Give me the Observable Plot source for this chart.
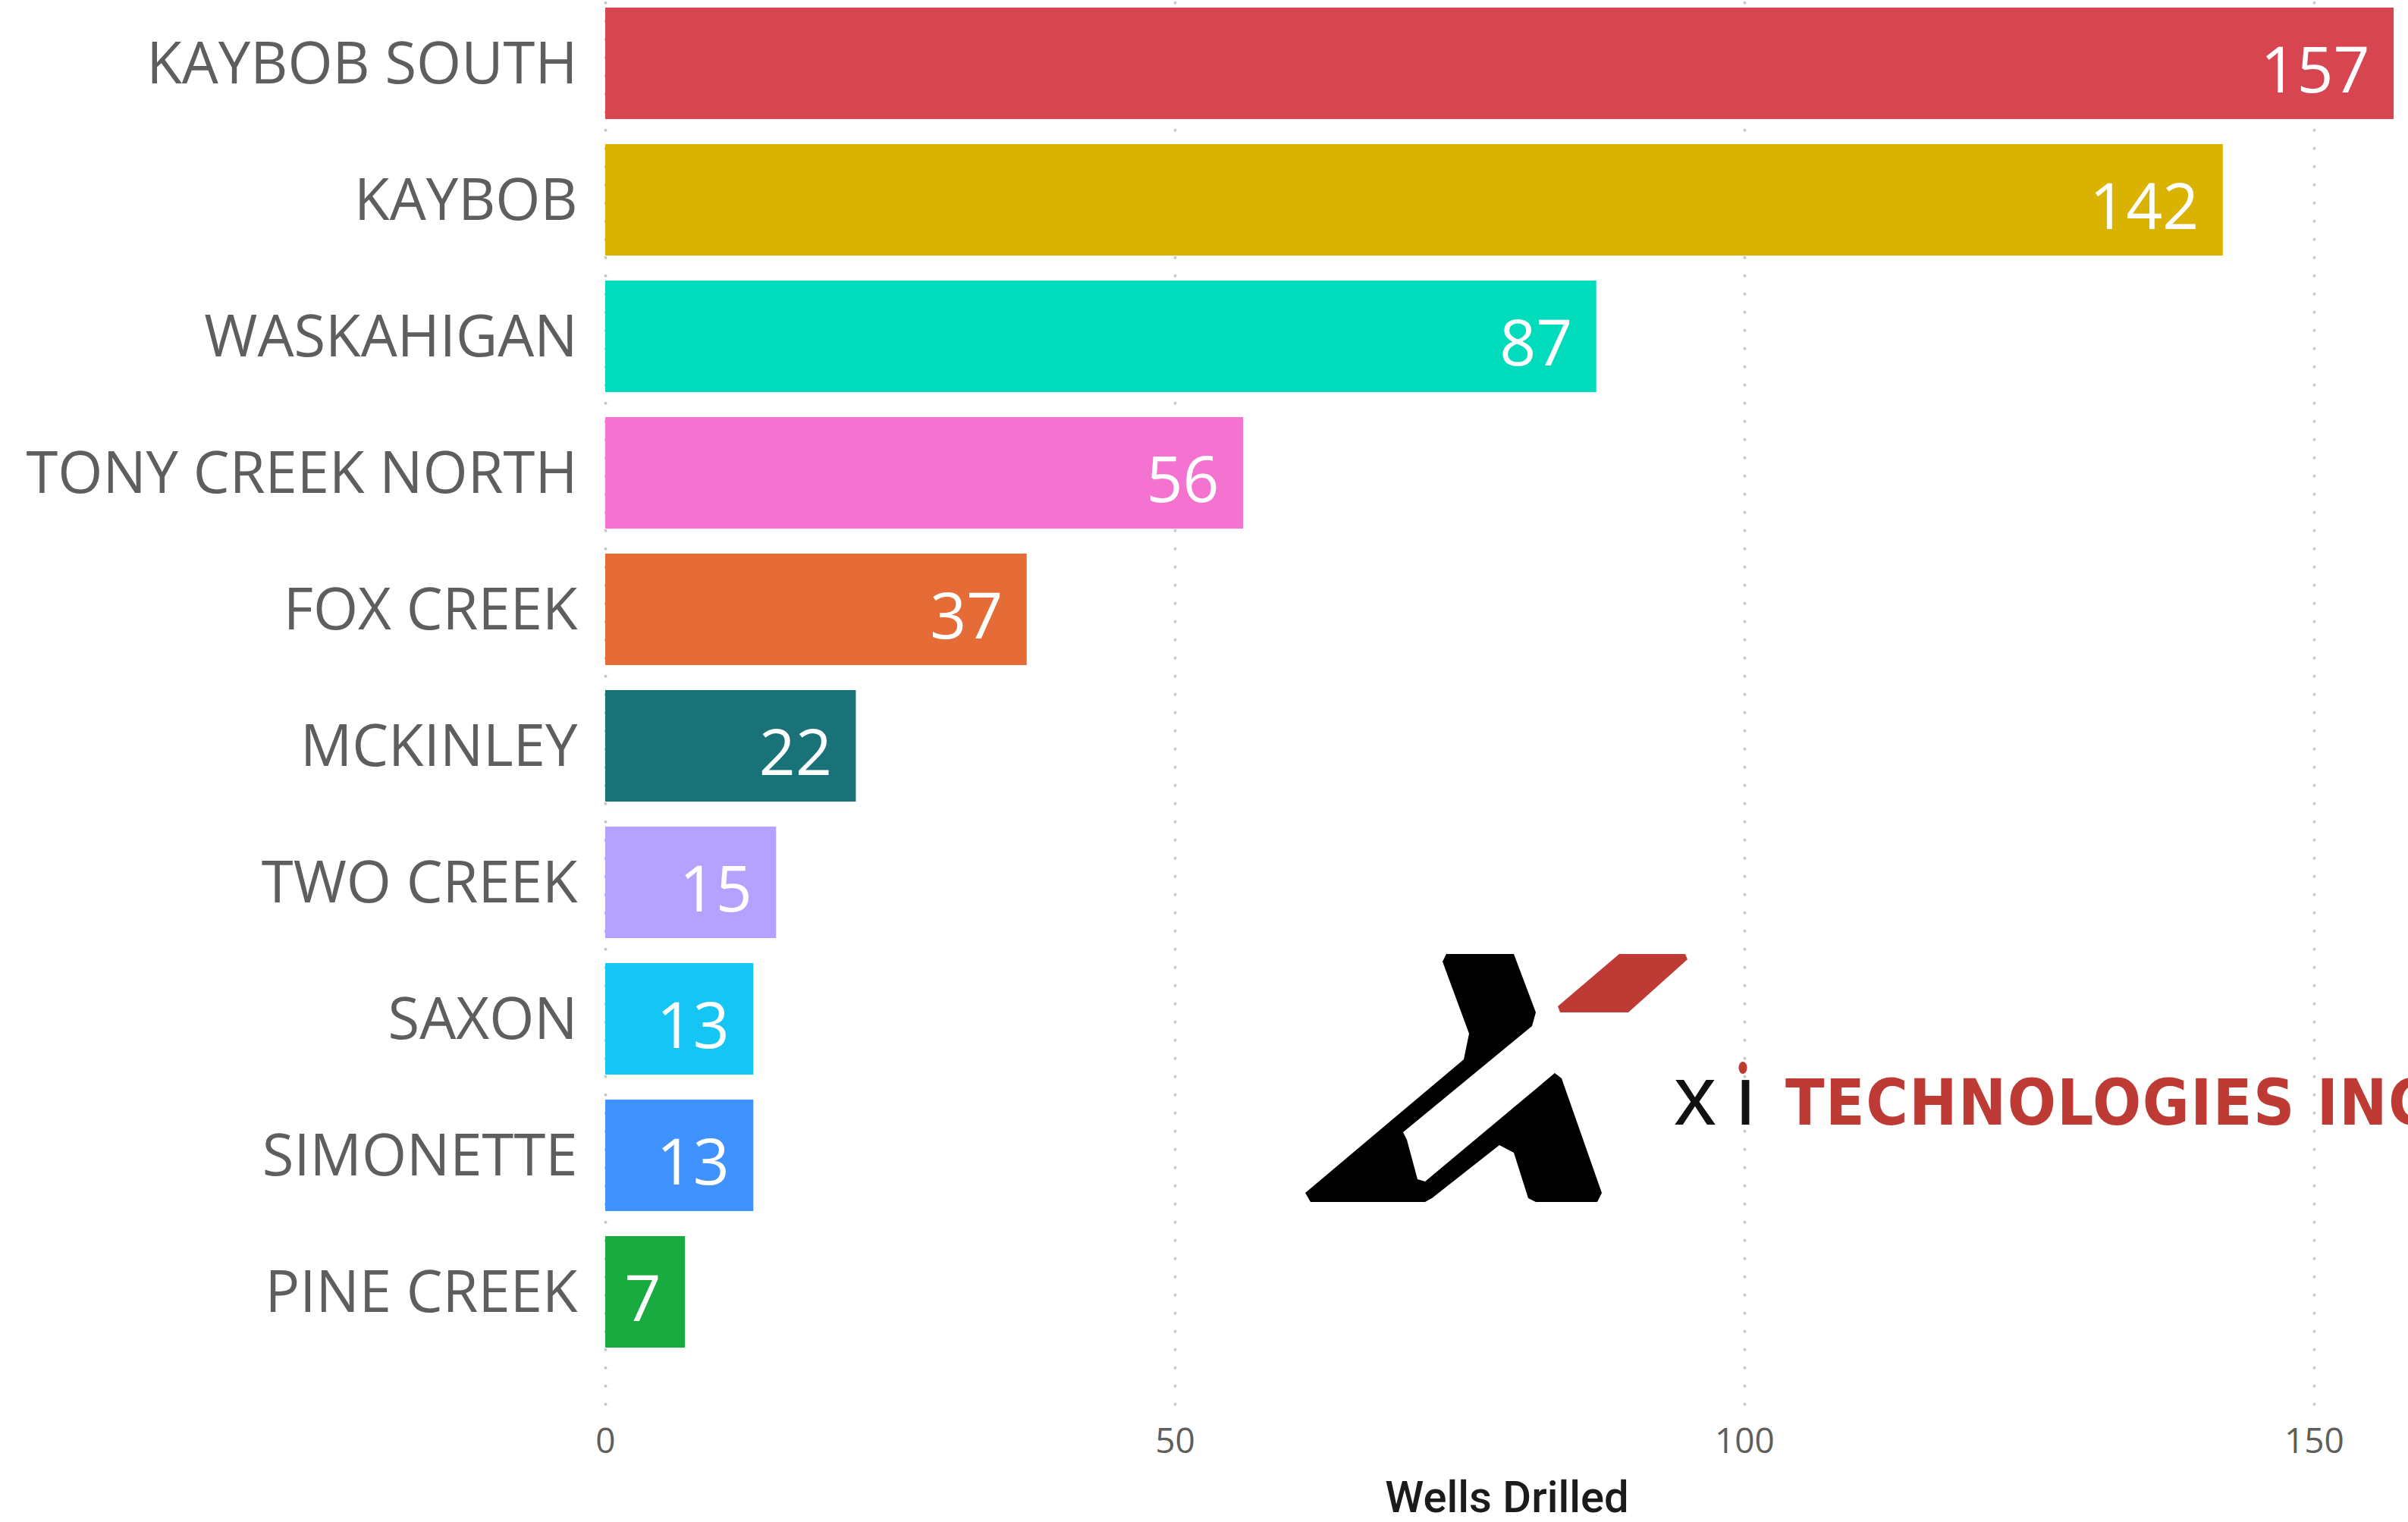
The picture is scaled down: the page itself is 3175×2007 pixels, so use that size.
<!DOCTYPE html>
<html><head><meta charset="utf-8">
<script src="https://cdn.jsdelivr.net/npm/d3@7"></script>
<script src="https://cdn.jsdelivr.net/npm/@observablehq/plot@0.6"></script>
<style>
html,body{margin:0;padding:0;background:#fff;}
#wrap{position:relative;width:3175px;height:2007px;overflow:hidden;background:#fff;}
#logo{position:absolute;left:0;top:0;}
g[aria-label="x-axis label"], g[aria-label="x-axis label"] text{
  font-family:"Roboto","DejaVu Sans Condensed",sans-serif;
  font-size:58px; fill:#1b1b1b; font-weight:500;
}
</style></head><body><div id="wrap"></div>
<script>
const fields = ["KAYBOB SOUTH","KAYBOB","WASKAHIGAN","TONY CREEK NORTH","FOX CREEK","MCKINLEY","TWO CREEK","SAXON","SIMONETTE","PINE CREEK"];
const wells = [157,142,87,56,37,22,15,13,13,7];
const colors = ["#D64550","#D9B300","#00DBBC","#F472D0","#E66C37","#197278","#B5A1FF","#15C6F4","#4092FF","#1AAB40"];
const xTicks = [0,50,100,150];
const xDomain = [0,158.26];
const axisTitle = "Wells Drilled";
const logoWordmark = ["x","ı","TECHNOLOGIES INC"];

const data = fields.map((f,i)=>({field:f, wells:wells[i]}));

const chart = Plot.plot({
  width:3175, height:2007,
  marginLeft:798, marginRight:0, marginTop:0, marginBottom:151,
  style:{fontFamily:"'Open Sans', sans-serif", background:"#fff", overflow:"visible"},
  x:{domain:xDomain},
  y:{domain:fields, paddingInner:0.181, paddingOuter:0.2346, align:0.118},
  color:{domain:fields, range:colors},
  marks:[
    Plot.gridX(xTicks,{stroke:"#c8c8c8",strokeOpacity:1,strokeWidth:3.5,strokeDasharray:"3.5,20.5",strokeDashoffset:-2}),
    Plot.barX(data,{x:"wells",y:"field",fill:"field"}),
    Plot.text(data,{x:"wells",y:"field",text:"wells",textAnchor:"end",dx:-32,dy:11,fill:"white",fontSize:84}),
    Plot.axisY({tickSize:0,tickPadding:37,fontSize:76,dy:2,fill:"#605E5C",label:null}),
    Plot.axisX(xTicks,{tickSize:0,tickPadding:27,fontSize:46,fill:"#605E5C",label:axisTitle,labelAnchor:"center",labelOffset:137,labelArrow:"none"})
  ]
});
const wrap = document.getElementById("wrap");
wrap.appendChild(chart);

// logo overlay (decoration)
const ns="http://www.w3.org/2000/svg";
const svg=document.createElementNS(ns,"svg");
svg.setAttribute("id","logo");svg.setAttribute("width","3175");svg.setAttribute("height","2007");
svg.innerHTML = `
<polygon fill="#000" points="1907,1258 1996,1258 2025,1335 2020,1353 1850,1493 1855,1503 1869,1555 1879,1558 2050,1415 2059,1422 2112,1573 2106,1585 2025,1585 2015,1580 1996,1520 1977,1510 1888,1580 1879,1585 1728,1585 1721,1573 1930,1397 1937,1363 1902,1268"/>
<polygon fill="#BE3A34" points="2135,1258 2222,1258 2225,1265 2147,1335 2057,1335 2054,1327"/>
<text x="2207" y="1483" font-family="'Liberation Sans','DejaVu Sans',sans-serif" font-size="112" fill="#111">${logoWordmark[0]}</text>
<text x="2286" y="1483" font-family="'Liberation Sans','DejaVu Sans',sans-serif" font-size="112" fill="#111">${logoWordmark[1]}</text>
<ellipse cx="2298" cy="1408" rx="5.5" ry="8" fill="#BE3A34"/>
<text x="2354" y="1483" font-family="'DejaVu Sans Condensed','Liberation Sans Narrow',sans-serif" font-weight="bold" font-size="84" letter-spacing="1.5" fill="#BE3A34">${logoWordmark[2]}</text>
`;
wrap.appendChild(svg);
</script></body></html>
